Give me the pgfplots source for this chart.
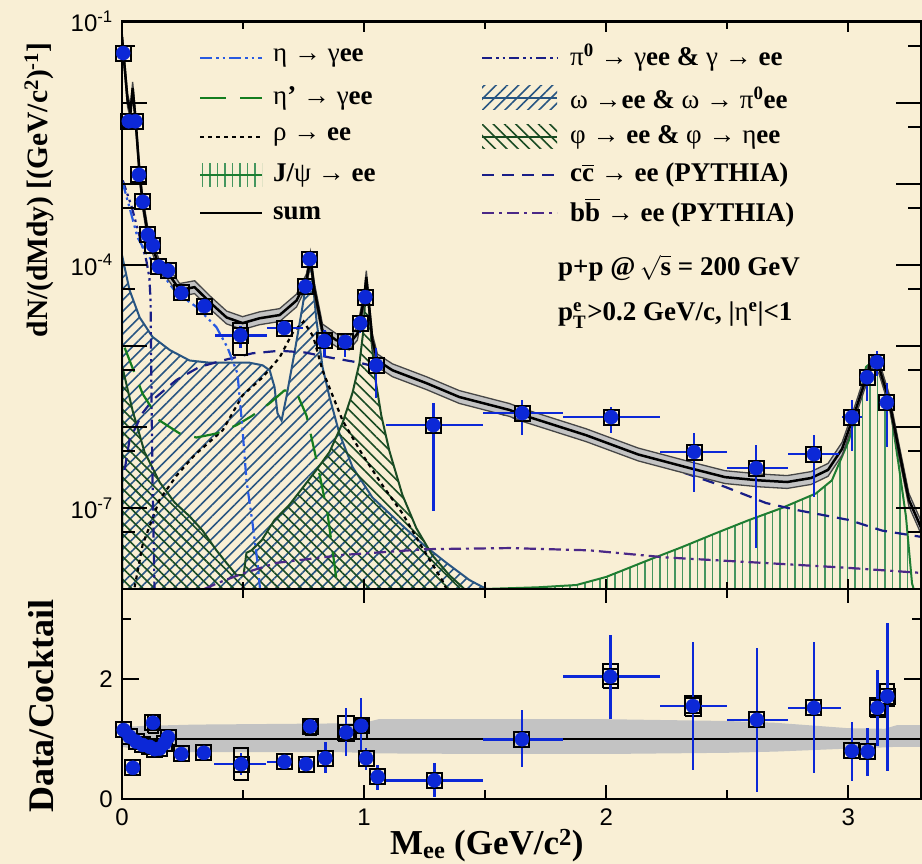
\documentclass[border=0pt]{standalone}
\usepackage{amsmath}
\usepackage{fontspec}
\setmainfont{Liberation Serif}
\setsansfont{Liberation Sans}
\usepackage{pgfplots}
\pgfplotsset{compat=1.18}
\usepackage{pgfplotstable}
\usetikzlibrary{patterns.meta}

\definecolor{bg}{RGB}{249,239,213}
\definecolor{datablue}{RGB}{12,40,215}
\definecolor{etablue}{RGB}{40,90,225}
\definecolor{navy}{RGB}{25,30,135}
\definecolor{etapgreen}{RGB}{20,125,30}
\definecolor{omegaline}{RGB}{40,85,130}
\definecolor{philine}{RGB}{25,75,35}
\definecolor{jpsiline}{RGB}{30,125,50}
\definecolor{jpsihatch}{RGB}{70,150,95}
\definecolor{bbpurple}{RGB}{75,40,135}
\definecolor{bandgray}{RGB}{195,195,195}
\definecolor{bandedge}{RGB}{70,70,70}

\newcommand{\gr}[1]{{\mdseries #1}}

\pgfplotstableread{
M y
0.000 6.5e-2
0.003 5.13e-2
0.023 1.07e-2
0.035 7.6e-3
0.044 1.51e-2
0.056 6.2e-3
0.073 1.29e-3
0.085 6.0e-4
0.106 2.45e-4
0.126 1.66e-4
0.155 9.3e-5
0.188 8.1e-5
0.238 4.9e-5
0.300 5.3e-5
0.362 3.47e-5
0.432 2.24e-5
0.498 1.91e-5
0.568 2.19e-5
0.651 2.4e-5
0.721 3.63e-5
0.762 6.46e-5
0.778 1.20e-4
0.795 4.9e-5
0.828 1.55e-5
0.886 1.17e-5
0.939 1.07e-5
0.972 1.41e-5
1.001 3.98e-5
1.009 7.08e-5
1.034 1.17e-5
1.055 6.6e-6
1.117 5.0e-6
1.257 3.47e-6
1.393 2.34e-6
1.600 1.62e-6
1.662 1.38e-6
1.917 7.9e-7
2.132 4.57e-7
2.347 3.09e-7
2.491 2.40e-7
2.631 2.19e-7
2.747 2.09e-7
2.846 2.34e-7
2.916 2.95e-7
2.974 5.37e-7
3.019 1.29e-6
3.061 3.09e-6
3.097 6.31e-6
3.126 5.5e-6
3.168 2.14e-6
3.209 5.13e-7
3.250 1.26e-7
3.300 5.75e-8
}\sumtab

% band around the sum: upper edge forward (f=1.2), lower edge backward (f=1/1.2)
\pgfplotstableread{
M y f
0.000 6.5e-2 1.2
0.003 5.13e-2 1.2
0.023 1.07e-2 1.2
0.035 7.6e-3 1.2
0.044 1.51e-2 1.2
0.056 6.2e-3 1.2
0.073 1.29e-3 1.2
0.085 6.0e-4 1.2
0.106 2.45e-4 1.2
0.126 1.66e-4 1.2
0.155 9.3e-5 1.2
0.188 8.1e-5 1.2
0.238 4.9e-5 1.2
0.300 5.3e-5 1.2
0.362 3.47e-5 1.2
0.432 2.24e-5 1.2
0.498 1.91e-5 1.2
0.568 2.19e-5 1.2
0.651 2.4e-5 1.2
0.721 3.63e-5 1.2
0.762 6.46e-5 1.2
0.778 1.20e-4 1.2
0.795 4.9e-5 1.2
0.828 1.55e-5 1.2
0.886 1.17e-5 1.2
0.939 1.07e-5 1.2
0.972 1.41e-5 1.2
1.001 3.98e-5 1.2
1.009 7.08e-5 1.2
1.034 1.17e-5 1.2
1.055 6.6e-6 1.2
1.117 5.0e-6 1.2
1.257 3.47e-6 1.2
1.393 2.34e-6 1.2
1.600 1.62e-6 1.2
1.662 1.38e-6 1.2
1.917 7.9e-7 1.2
2.132 4.57e-7 1.2
2.347 3.09e-7 1.2
2.491 2.40e-7 1.2
2.631 2.19e-7 1.2
2.747 2.09e-7 1.2
2.846 2.34e-7 1.2
2.916 2.95e-7 1.2
2.974 5.37e-7 1.2
3.019 1.29e-6 1.2
3.061 3.09e-6 1.2
3.097 6.31e-6 1.2
3.126 5.5e-6 1.2
3.168 2.14e-6 1.2
3.209 5.13e-7 1.2
3.250 1.26e-7 1.2
3.300 5.75e-8 1.2
3.300 5.75e-8 0.8333
3.250 1.26e-7 0.8333
3.209 5.13e-7 0.8333
3.168 2.14e-6 0.8333
3.126 5.5e-6 0.8333
3.097 6.31e-6 0.8333
3.061 3.09e-6 0.8333
3.019 1.29e-6 0.8333
2.974 5.37e-7 0.8333
2.916 2.95e-7 0.8333
2.846 2.34e-7 0.8333
2.747 2.09e-7 0.8333
2.631 2.19e-7 0.8333
2.491 2.40e-7 0.8333
2.347 3.09e-7 0.8333
2.132 4.57e-7 0.8333
1.917 7.9e-7 0.8333
1.662 1.38e-6 0.8333
1.600 1.62e-6 0.8333
1.393 2.34e-6 0.8333
1.257 3.47e-6 0.8333
1.117 5.0e-6 0.8333
1.055 6.6e-6 0.8333
1.034 1.17e-5 0.8333
1.009 7.08e-5 0.8333
1.001 3.98e-5 0.8333
0.972 1.41e-5 0.8333
0.939 1.07e-5 0.8333
0.886 1.17e-5 0.8333
0.828 1.55e-5 0.8333
0.795 4.9e-5 0.8333
0.778 1.20e-4 0.8333
0.762 6.46e-5 0.8333
0.721 3.63e-5 0.8333
0.651 2.4e-5 0.8333
0.568 2.19e-5 0.8333
0.498 1.91e-5 0.8333
0.432 2.24e-5 0.8333
0.362 3.47e-5 0.8333
0.300 5.3e-5 0.8333
0.238 4.9e-5 0.8333
0.188 8.1e-5 0.8333
0.155 9.3e-5 0.8333
0.126 1.66e-4 0.8333
0.106 2.45e-4 0.8333
0.085 6.0e-4 0.8333
0.073 1.29e-3 0.8333
0.056 6.2e-3 0.8333
0.044 1.51e-2 0.8333
0.035 7.6e-3 0.8333
0.023 1.07e-2 0.8333
0.003 5.13e-2 0.8333
0.000 6.5e-2 0.8333
}\sumband

\pgfplotstableread{
M y
0.011 2.95e-7
0.031 6.9e-7
0.085 1.48e-6
0.126 2.14e-6
0.225 3.8e-6
0.320 5.5e-6
0.432 6.8e-6
0.539 8.1e-6
0.651 8.7e-6
0.754 8.3e-6
0.857 7.2e-6
0.981 6.2e-6
1.051 5.5e-6
1.146 4.2e-6
1.323 2.5e-6
1.600 1.35e-6
1.917 6.9e-7
2.202 3.6e-7
2.491 1.82e-7
2.660 1.15e-7
2.797 9.3e-8
3.003 7.1e-8
3.140 5.25e-8
3.300 4.4e-8
}\cctab

\pgfplotstableread{
M y
0.340 1.0e-8
0.400 1.2e-8
0.498 1.55e-8
0.638 2.1e-8
0.911 2.63e-8
1.257 3.1e-8
1.600 3.2e-8
1.930 3.0e-8
2.248 2.45e-8
2.660 2.09e-8
3.003 1.82e-8
3.300 1.58e-8
}\bbtab

\pgfplotstableread{
M y
0.002 1.05e-3
0.031 5.1e-4
0.064 2.19e-4
0.101 1.38e-4
0.155 8.5e-5
0.225 4.5e-5
0.308 3.02e-5
0.390 1.70e-5
0.436 9.5e-6
0.477 4.57e-6
0.498 9.1e-7
0.514 2.19e-7
0.539 6.5e-8
0.560 2.09e-8
0.570 1.0e-8
}\etatab

\pgfplotstableread{
M y
0.003 1.1e-3
0.040 5.2e-4
0.070 2.4e-4
0.100 1.15e-4
0.113 7.0e-5
0.118 3.6e-5
0.122 2.1e-6
0.126 2.2e-7
0.134 1.05e-8
0.136 1.0e-8
}\pizerotab

\pgfplotstableread{
M y
0.011 9.5e-6
0.052 4.6e-6
0.085 2.57e-6
0.155 1.2e-6
0.238 8.3e-7
0.308 7.4e-7
0.390 8.3e-7
0.473 1.05e-6
0.539 1.38e-6
0.609 1.95e-6
0.671 2.82e-6
0.720 2.69e-6
0.762 1.38e-6
0.807 3.5e-7
0.849 8.5e-8
0.886 1.29e-8
0.890 1.0e-8
}\etaptab

\pgfplotstableread{
M y
0.052 1.05e-8
0.085 3.5e-8
0.155 1.26e-7
0.225 2.5e-7
0.300 4.5e-7
0.416 9.1e-7
0.498 2.45e-6
0.581 4.1e-6
0.651 7.2e-6
0.705 1.45e-5
0.750 2.0e-5
0.790 1.3e-5
0.828 5.0e-6
0.911 1.2e-6
0.994 4.5e-7
1.076 1.9e-7
1.159 8.5e-8
1.241 3.2e-8
1.324 1.26e-8
1.340 1.0e-8
}\rhotab

\pgfplotstableread{
M y
0.000 1.0e-8
0.000 1.32e-4
0.031 4.9e-5
0.073 2.24e-5
0.126 1.29e-5
0.197 8.9e-6
0.279 6.6e-6
0.362 6.2e-6
0.527 6.2e-6
0.581 5.75e-6
0.610 5.0e-6
0.630 3.1e-6
0.642 1.48e-6
0.659 1.2e-6
0.679 2.34e-6
0.712 8.1e-6
0.745 3.0e-5
0.766 7.4e-5
0.778 1.15e-4
0.787 6.5e-5
0.803 2.1e-5
0.828 5.5e-6
0.857 2.34e-6
0.898 8.3e-7
0.952 3.2e-7
1.034 1.35e-7
1.133 7.1e-8
1.241 3.6e-8
1.340 2.1e-8
1.435 1.29e-8
1.505 1.0e-8
}\omegatab

\pgfplotstableread{
M y
0.000 1.0e-8
0.000 5.75e-6
0.044 1.58e-6
0.093 4.9e-7
0.155 2.09e-7
0.217 1.17e-7
0.279 7.9e-8
0.333 5.25e-8
0.390 3.0e-8
0.432 2.09e-8
0.473 1.48e-8
0.502 1.48e-8
0.514 2.8e-8
0.535 3.0e-8
0.577 4.0e-8
0.630 7.1e-8
0.692 1.1e-7
0.754 1.9e-7
0.803 2.95e-7
0.857 4.9e-7
0.911 1.12e-6
0.952 2.63e-6
0.981 6.2e-6
0.997 1.55e-5
1.009 6.5e-5
1.018 3.6e-5
1.030 1.17e-5
1.047 3.8e-6
1.071 1.38e-6
1.104 5.1e-7
1.158 1.45e-7
1.216 5.6e-8
1.282 2.6e-8
1.352 1.48e-8
1.414 1.0e-8
}\phitab

\pgfplotstableread{
M y
1.497 1.0e-8
1.720 1.05e-8
1.877 1.12e-8
2.000 1.41e-8
2.177 2.29e-8
2.314 3.3e-8
2.454 4.9e-8
2.590 7.1e-8
2.726 1.0e-7
2.866 1.51e-7
2.932 2.19e-7
3.003 6.9e-7
3.044 2.14e-6
3.073 5.5e-6
3.097 6.3e-6
3.126 5.5e-6
3.168 2.14e-6
3.209 3.2e-7
3.238 7.8e-8
3.263 1.17e-8
3.270 1.0e-8
}\jpsitab

\pgfplotstableread{
M y xm xp ym yp
0.005 4.1e-2 0 0 0 0
0.028 5.9e-3 0 0 0 0
0.055 5.9e-3 0 0 0 0
0.070 1.29e-3 0 0 0 0
0.086 6.0e-4 0 0 0 0
0.107 2.34e-4 0 0 0 0
0.128 1.74e-4 0 0 0 0
0.152 9.5e-5 0 0 0 0
0.190 8.5e-5 0 0 0 0
0.245 4.5e-5 0.035 0.035 0 0
0.341 3.1e-5 0.03 0.03 0 0
0.489 1.35e-5 0.106 0.109 4.0e-6 4.3e-6
0.670 1.66e-5 0.072 0.076 2e-6 2e-6
0.758 5.4e-5 0 0 0 0
0.775 1.18e-4 0 0 0 0
0.836 1.15e-5 0 0 4.3e-6 4.0e-6
0.922 1.12e-5 0 0 4.0e-6 3.3e-6
0.984 1.9e-5 0 0 4.5e-6 4e-6
1.005 4.0e-5 0 0 0 0
1.050 5.75e-6 0 0 3.46e-6 3.75e-6
1.286 1.05e-6 0.196 0.204 9.57e-7 9e-7
1.653 1.48e-6 0.163 0.167 6.9e-7 6.6e-7
2.020 1.32e-6 0.2 0.2 4.7e-7 4.2e-7
2.363 4.9e-7 0.143 0.137 3.32e-7 3.4e-7
2.619 3.1e-7 0.119 0.131 2.78e-7 2.8e-7
2.858 4.6e-7 0.108 0.102 3.25e-7 3.3e-7
3.015 1.32e-6 0.04 0.04 8.1e-7 8.2e-7
3.077 4.1e-6 0 0 2.0e-6 9e-7
3.118 6.3e-6 0 0 2.0e-6 2.4e-6
3.159 2.0e-6 0 0 1.44e-6 1.47e-6
}\topdata

\pgfplotstableread{
M r xm xp em ep
0.007 1.15 0 0 0 0
0.031 1.04 0 0 0 0
0.045 0.52 0 0 0 0
0.059 0.955 0 0 0 0
0.086 0.90 0 0 0 0
0.114 0.87 0 0 0 0
0.128 1.27 0 0 0.1 0.1
0.135 0.83 0 0 0 0
0.155 0.84 0 0 0 0
0.176 0.93 0 0 0 0
0.190 1.03 0 0 0.1 0.1
0.245 0.75 0.03 0.03 0 0
0.338 0.77 0.03 0.03 0.1 0.1
0.492 0.58 0.11 0.103 0.18 0.18
0.671 0.62 0.071 0.029 0.06 0.06
0.760 0.58 0 0 0.05 0.05
0.777 1.21 0 0 0.08 0.08
0.840 0.68 0 0 0.25 0.265
0.926 1.11 0 0 0.40 0.40
0.988 1.22 0 0 0.40 0.46
1.008 0.68 0 0 0.19 0.17
1.056 0.37 0 0 0.22 0.20
1.290 0.31 0.20 0.20 0.27 0.29
1.652 0.995 0.16 0.17 0.455 0.485
2.017 2.04 0.197 0.203 0.71 0.70
2.358 1.55 0.138 0.142 1.07 1.07
2.622 1.32 0.122 0.128 1.2 1.2
2.858 1.52 0.108 0.112 1.09 1.1
3.014 0.80 0.03 0.03 0.5 0.49
3.080 0.79 0 0 0.41 0.39
3.120 1.52 0 0 0.63 0.63
3.161 1.71 0 0 1.25 1.23
}\ratiodata

% ratio-panel band: upper edge forward, lower edge backward
\pgfplotstableread{
M r
0.000 1.20
0.100 1.22
0.300 1.24
0.600 1.25
0.900 1.26
1.000 1.27
1.030 1.30
1.060 1.33
1.500 1.33
2.000 1.33
2.500 1.30
2.700 1.27
3.000 1.18
3.150 1.17
3.200 1.23
3.300 1.23
3.300 0.87
3.200 0.87
3.150 0.86
3.000 0.84
2.700 0.79
2.500 0.77
2.000 0.75
1.500 0.75
1.060 0.76
1.030 0.76
1.000 0.77
0.900 0.78
0.600 0.78
0.300 0.78
0.100 0.80
0.000 0.87
}\ratioband

\pgfplotsset{
  paneldefaults/.style={
    scale only axis, width=799pt, xmin=0, xmax=3.3,
    axis line style={line width=2.5pt},
    tick align=inside, xtick pos=both, ytick pos=both,
    tick style={line width=2pt, black},
    xtick={0,1,2,3}, minor xtick={0.5,1.5,2.5},
    axis on top,
    xticklabel style={font=\fontsize{24}{24}\selectfont\sffamily, inner sep=0pt, yshift=-10pt},
    yticklabel style={font=\fontsize{24}{24}\selectfont\sffamily, inner sep=0pt, xshift=-9pt},
  },
  datastyle/.style={only marks, mark=*, mark size=7pt, color=datablue,
    error bars/.cd, x dir=both, x explicit, y dir=both, y explicit,
    error bar style={line width=2.5pt, datablue}, error mark=none},
  boxstyle/.style={only marks, mark=square, mark size=7.5pt, mark options={line width=2pt, black, fill=none}},
  rect/.style={black, line width=2pt, line join=miter, forget plot, mark=none},
}

\begin{document}
\begin{tikzpicture}[x=1pt,y=1pt]
\fill[bg] (0,0) rectangle (922,864);
\useasboundingbox (0,0) rectangle (922,864);

% ---------------- top panel ----------------
\begin{axis}[paneldefaults, at={(122pt,275pt)}, anchor=south west, height=567.3pt,
  ymode=log, ymin=1e-8, ymax=1e-1,
  xticklabels={},
  ytick={1e-7,1e-6,1e-5,1e-4,1e-3,1e-2,1e-1},
  yticklabels={10\textsuperscript{-7},,,10\textsuperscript{-4},,,10\textsuperscript{-1}},
  minor ytick={5e-8,5e-7,5e-6,5e-5,5e-4,5e-3,5e-2},
  xtick style={/pgfplots/major tick length=10pt, /pgfplots/minor tick length=7pt},
  ytick style={/pgfplots/major tick length=25pt, /pgfplots/minor tick length=13pt},
]
% hatched areas
\addplot[jpsiline, line width=2pt, pattern={Lines[angle=90,distance=7.5pt,line width=1.5pt]}, pattern color=jpsihatch] table[x=M,y=y]{\jpsitab};
\addplot[omegaline, line width=2pt, pattern={Lines[angle=45,distance=8pt,line width=1.6pt]}, pattern color=omegaline] table[x=M,y=y]{\omegatab};
\addplot[philine, line width=2pt, pattern={Lines[angle=-45,distance=8pt,line width=1.6pt]}, pattern color=philine] table[x=M,y=y]{\phitab};
% lines
\addplot[bbpurple, line width=2.2pt, dash pattern=on 12pt off 5pt on 3pt off 5pt] table[x=M,y=y]{\bbtab};
\addplot[navy, line width=2.2pt, dash pattern=on 12pt off 8pt] table[x=M,y=y]{\cctab};
\addplot[black, line width=2.2pt, dash pattern=on 4pt off 4pt] table[x=M,y=y]{\rhotab};
\addplot[etapgreen, line width=2.2pt, dash pattern=on 26pt off 14pt] table[x=M,y=y]{\etaptab};
\addplot[navy, line width=2.2pt, dash pattern=on 10pt off 4pt on 2.5pt off 4pt on 2.5pt off 4pt] table[x=M,y=y]{\pizerotab};
\addplot[etablue, line width=2.2pt, dash pattern=on 12pt off 4pt on 2.5pt off 4pt on 2.5pt off 4pt] table[x=M,y=y]{\etatab};
% sum band
\addplot[fill=bandgray, draw=none] table[x=M, y expr=\thisrow{y}*\thisrow{f}]{\sumband};
\addplot[bandedge, line width=1.3pt] table[x=M, y expr=\thisrow{y}*1.2]{\sumtab};
\addplot[bandedge, line width=1.3pt] table[x=M, y expr=\thisrow{y}/1.2]{\sumtab};
\addplot[black, line width=2.5pt] table[x=M,y=y]{\sumtab};
% data
\addplot[rect] coordinates {(0.46,7.8e-6) (0.518,7.8e-6) (0.518,1.9e-5) (0.46,1.9e-5) (0.46,7.8e-6)};
\addplot[boxstyle] table[x=M,y=y]{\topdata};
\addplot[datastyle] table[x=M,y=y,x error plus=xp,x error minus=xm,y error plus=yp,y error minus=ym]{\topdata};
\end{axis}

% ---------------- ratio panel ----------------
\begin{axis}[paneldefaults, at={(122pt,65pt)}, anchor=south west, height=210pt,
  ymin=0, ymax=3.5,
  xticklabels={0,1,2,3},
  ytick={0,2}, yticklabels={0,2}, minor ytick={1,3},
  xtick style={/pgfplots/major tick length=14pt, /pgfplots/minor tick length=9pt},
  ytick style={/pgfplots/major tick length=17pt, /pgfplots/minor tick length=9pt},
]
\addplot[fill=bandgray, draw=none] table[x=M,y=r]{\ratioband};
\addplot[black, line width=2pt] coordinates {(0,1) (3.3,1)};
\addplot[rect] coordinates {(0.462,0.32) (0.522,0.32) (0.522,0.855) (0.462,0.855) (0.462,0.32)};
\addplot[rect] coordinates {(0.892,0.96) (0.960,0.96) (0.960,1.38) (0.892,1.38) (0.892,0.96)};
\addplot[rect] coordinates {(0.965,1.0) (1.012,1.0) (1.012,1.34) (0.965,1.34) (0.965,1.0)};
\addplot[rect] coordinates {(0.108,1.1) (0.150,1.1) (0.150,1.40) (0.108,1.40) (0.108,1.1)};
\addplot[rect] coordinates {(0.757,1.07) (0.800,1.07) (0.800,1.34) (0.757,1.34) (0.757,1.07)};
\addplot[rect] coordinates {(1.986,1.85) (2.048,1.85) (2.048,2.25) (1.986,2.25) (1.986,1.85)};
\addplot[rect] coordinates {(2.325,1.38) (2.390,1.38) (2.390,1.72) (2.325,1.72) (2.325,1.38)};
\addplot[rect] coordinates {(3.090,1.36) (3.150,1.36) (3.150,1.68) (3.090,1.68) (3.090,1.36)};
\addplot[rect] coordinates {(3.130,1.55) (3.190,1.55) (3.190,1.91) (3.130,1.91) (3.130,1.55)};
\addplot[boxstyle] table[x=M,y=r]{\ratiodata};
\addplot[datastyle] table[x=M,y=r,x error plus=xp,x error minus=xm,y error plus=ep,y error minus=em]{\ratiodata};
\end{axis}

% ---------------- legend ----------------
\begin{scope}[every node/.style={anchor=west, inner sep=0pt, font=\fontsize{27}{27}\selectfont\bfseries}]
% column 1
\draw[etablue, line width=2.2pt, dash pattern=on 12pt off 4pt on 2.5pt off 4pt on 2.5pt off 4pt] (200,806) -- (262,806);
\node at (273,806) {\gr{η} \gr{→} \gr{γ}ee};
\draw[etapgreen, line width=2.2pt, dash pattern=on 26pt off 14pt] (200,766) -- (262,766);
\node at (273,766) {\gr{η}’ \gr{→} \gr{γ}ee};
\draw[black, line width=2.2pt, dash pattern=on 4pt off 4pt] (200,727) -- (262,727);
\node at (273,727) {\gr{ρ} \gr{→} ee};
\fill[pattern={Lines[angle=90,distance=7.5pt,line width=1.5pt]}, pattern color=jpsihatch] (200,677) rectangle (262,701);
\draw[jpsiline, line width=2pt] (200,689) -- (262,689);
\node at (273,689) {J/\gr{ψ} \gr{→} ee};
\draw[black, line width=2.5pt] (200,651) -- (262,651);
\node at (273,651) {sum};
% column 2
\draw[navy, line width=2.2pt, dash pattern=on 10pt off 4pt on 2.5pt off 4pt on 2.5pt off 4pt] (482,806) -- (557,806);
\node at (570,806) {\gr{π}\textsuperscript{0} \gr{→} \gr{γ}ee \& \gr{γ} \gr{→} ee};
\fill[pattern={Lines[angle=45,distance=8pt,line width=1.6pt]}, pattern color=omegaline] (482,754) rectangle (557,778);
\draw[omegaline, line width=2pt] (482,766) -- (557,766);
\node at (570,766) {\gr{ω} \gr{→}ee \& \gr{ω} \gr{→} \gr{π}\textsuperscript{0}ee};
\fill[pattern={Lines[angle=-45,distance=8pt,line width=1.6pt]}, pattern color=philine] (482,715) rectangle (557,739);
\draw[philine, line width=2pt] (482,727) -- (557,727);
\node at (570,727) {\gr{φ} \gr{→} ee \& \gr{φ} \gr{→} \gr{η}ee};
\draw[navy, line width=2.2pt, dash pattern=on 12pt off 8pt] (482,689) -- (557,689);
\node at (570,689) {c$\overline{\mbox{c}}$ \gr{→} ee (PYTHIA)};
\draw[bbpurple, line width=2.2pt, dash pattern=on 12pt off 5pt on 3pt off 5pt] (482,651) -- (557,651);
\node at (570,651) {b$\overline{\mbox{b}}$ \gr{→} ee (PYTHIA)};
% annotations
\node at (558,596) {p+p @\,$\sqrt{\text{s}}$ = 200 GeV};
\node at (558,549) {p$^{\text{e}}_{\text{T}}$\kern1pt>0.2 GeV/c, |\gr{η}\textsuperscript{e}|<1};
\end{scope}

% axis titles
\node[rotate=90, font=\fontsize{29.5}{30}\selectfont\bfseries] at (39,674) {dN/(dMdy) [(GeV/c\textsuperscript{2})\textsuperscript{-1}]};
\node[rotate=90, font=\fontsize{36}{36}\selectfont\bfseries] at (41,158) {Data/Cocktail};
\node[anchor=base west, inner sep=0pt, font=\fontsize{35}{35}\selectfont\bfseries] at (390,9) {M\textsubscript{ee} (GeV/c\textsuperscript{2})};
\end{tikzpicture}
\end{document}
